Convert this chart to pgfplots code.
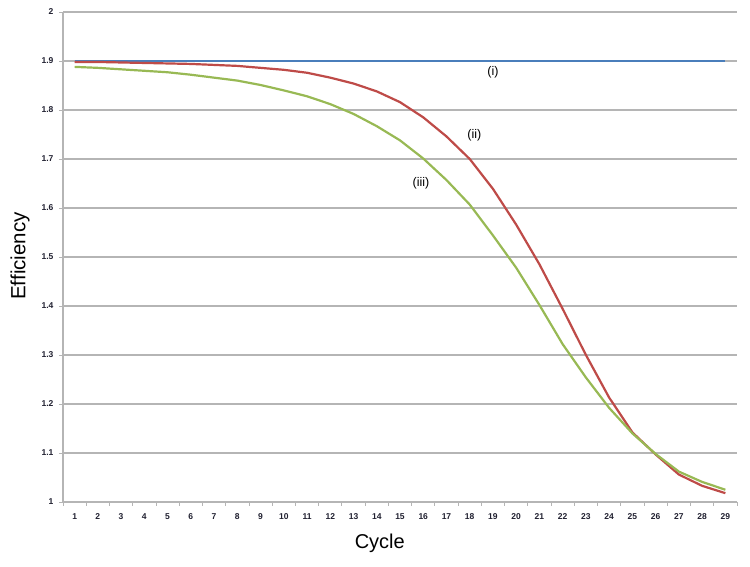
\documentclass[border=0pt]{standalone}
\usepackage{fontspec}
\setmainfont{Liberation Sans}
\usepackage{pgfplots}
\pgfplotsset{compat=1.18}
\definecolor{exblue}{HTML}{4A7EBB}
\definecolor{exred}{HTML}{BE4B48}
\definecolor{exgreen}{HTML}{98B954}
\definecolor{gridgray}{HTML}{B5B5B5}
\definecolor{ticktext}{HTML}{202030}
\begin{document}
\begin{tikzpicture}
\begin{axis}[
  scale only axis, width=674pt, height=490pt,
  xmin=0.5, xmax=29.5, ymin=1, ymax=2,
  axis x line*=bottom, axis y line*=left,
  axis line style={draw=gridgray, line width=1.2pt, -},
  xtick={1,...,29},
  major x tick style={draw=none},
  minor xtick={0.5,1.5,...,29.5},
  minor x tick style={draw=gridgray, line width=0.8pt},
  minor tick length=4pt,
  ytick={1,1.1,1.2,1.3,1.4,1.5,1.6,1.7,1.8,1.9,2},
  yticklabels={1,1.1,1.2,1.3,1.4,1.5,1.6,1.7,1.8,1.9,2},
  major y tick style={draw=gridgray, line width=0.8pt},
  major tick length=4pt,
  tick align=outside,
  ymajorgrids,
  grid style={draw=gridgray, line width=1.2pt},
  /pgf/number format/assume math mode=true,
  tick label style={font=\fontsize{8.5}{10}\selectfont\bfseries, text=ticktext},
  xticklabel style={yshift=-4pt},
  yticklabel style={xshift=-2pt},
  xlabel={Cycle}, ylabel={Efficiency},
  xlabel style={at={(axis description cs:0.47,0)}, anchor=center, yshift=-41pt, font=\fontsize{20}{24}\selectfont},
  ylabel style={at={([xshift=-43pt]axis description cs:0,0.502)}, anchor=center, font=\fontsize{20.5}{24}\selectfont},
  clip=false,
]
\addplot[exblue, line width=2.2pt] coordinates {
(1,1.9)(2,1.9)(3,1.9)(4,1.9)(5,1.9)(6,1.9)(7,1.9)(8,1.9)(9,1.9)(10,1.9)
(11,1.9)(12,1.9)(13,1.9)(14,1.9)(15,1.9)(16,1.9)(17,1.9)(18,1.9)(19,1.9)(20,1.9)
(21,1.9)(22,1.9)(23,1.9)(24,1.9)(25,1.9)(26,1.9)(27,1.9)(28,1.9)(29,1.9)};
\addplot[exred, line width=2.2pt] coordinates {
(1,1.898)(2,1.898)(3,1.897)(4,1.896)(5,1.895)(6,1.894)(7,1.892)(8,1.890)(9,1.886)(10,1.882)
(11,1.876)(12,1.866)(13,1.854)(14,1.838)(15,1.816)(16,1.785)(17,1.746)(18,1.700)(19,1.639)(20,1.566)
(21,1.485)(22,1.394)(23,1.300)(24,1.213)(25,1.142)(26,1.097)(27,1.056)(28,1.033)(29,1.018)};
\addplot[exgreen, line width=2.2pt] coordinates {
(1,1.888)(2,1.886)(3,1.883)(4,1.880)(5,1.877)(6,1.872)(7,1.866)(8,1.860)(9,1.851)(10,1.840)
(11,1.828)(12,1.812)(13,1.792)(14,1.767)(15,1.738)(16,1.701)(17,1.657)(18,1.607)(19,1.544)(20,1.478)
(21,1.402)(22,1.322)(23,1.254)(24,1.192)(25,1.140)(26,1.098)(27,1.062)(28,1.041)(29,1.025)};
\node[font=\fontsize{12.5}{14}\selectfont] at (axis cs:19.0,1.878) {(i)};
\node[font=\fontsize{12.5}{14}\selectfont] at (axis cs:18.2,1.749) {(ii)};
\node[font=\fontsize{12.5}{14}\selectfont] at (axis cs:15.9,1.651) {(iii)};
\end{axis}
\path (current axis.south west) ++(-63pt,-65pt) rectangle ++(750pt,567pt);
\end{tikzpicture}
\end{document}
